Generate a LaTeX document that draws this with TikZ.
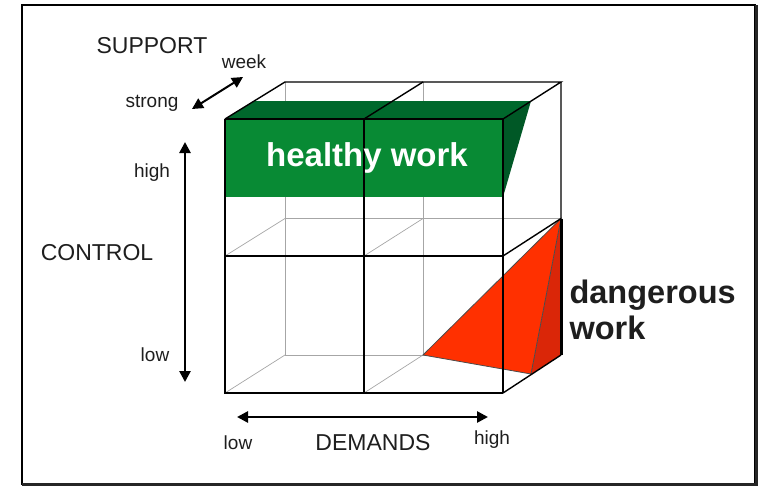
\documentclass[tikz,border=0pt]{standalone}
\usepackage{fontspec}
\setmainfont{Liberation Sans}
\usetikzlibrary{arrows.meta}

\definecolor{healthy}{RGB}{8,138,52}
\definecolor{healthytop}{RGB}{0,104,44}
\definecolor{healthyside}{RGB}{0,88,38}
\definecolor{danger}{RGB}{255,48,0}
\definecolor{dangerside}{RGB}{218,38,8}
\definecolor{ink}{RGB}{30,30,30}

\tikzset{
  edge/.style={line width=1.4pt},
  hidden/.style={gray!70,line width=0.7pt},
  axis/.style={line width=2.6pt,{Triangle[length=11pt,width=11pt]}-{Triangle[length=11pt,width=11pt]}},
  small/.style={text=ink,font=\fontsize{19}{19}\selectfont},
  big/.style={text=ink,font=\fontsize{23}{23}\selectfont},
}

\begin{document}
\begin{tikzpicture}[x=1pt,y=-1pt]
  \useasboundingbox (0,0) rectangle (766,487);
  % frame
  \draw[line width=1.5pt] (22,5) rectangle (755,484);
  \draw[line width=3pt,black!85] (22,484) -- (756,484) -- (756,5);

  % cube corners: f = front face, b = back face
  \foreach \row/\j in {t/0,m/1,b/2}
    \foreach \col/\i in {l/0,m/1,r/2} {
      \coordinate (f\row\col) at (225+139*\i, 119+137*\j);
      \coordinate (b\row\col) at (285+138*\i, 82+136.5*\j);
    }

  % hidden edges
  \draw[hidden] (btl) -- (bbl) -- (bbr);
  \draw[hidden] (btm) -- (bbm);
  \draw[hidden] (bml) -- (bmr);
  \foreach \n in {ml,mm,bl,bm}
    \draw[hidden] (f\n) -- (b\n);

  % healthy work block
  \coordinate (gtl) at (255,101);
  \coordinate (gtr) at (531,101);
  \coordinate (gbl) at (225,197);
  \coordinate (gbr) at (503,197);
  \fill[healthytop] (ftl) -- (gtl) -- (gtr) -- (ftr) -- cycle;
  \fill[healthyside] (ftr) -- (gtr) -- (gbr) -- cycle;
  \fill[healthy] (ftl) rectangle (gbr);

  % dangerous work wedge
  \coordinate (rc) at (531,374);
  \fill[danger] (bbm) -- (bmr) -- (rc) -- cycle;
  \fill[dangerside] (bmr) -- (rc) -- (bbr) -- cycle;
  \draw[line width=0.8pt,black!70] (bbm) -- (bmr) -- (rc) -- cycle;

  % visible edges
  \draw[edge] (ftl) -- (btl) -- (btr) -- (ftr);
  \draw[edge] (ftm) -- (btm);
  \draw[edge] (btr) -- (bmr) -- (fmr);
  \draw[edge] (bbr) -- (fbr);
  \draw[line width=3pt] (bmr) -- (bbr);
  \draw[edge] (ftr) -- (fbr);
  \draw[edge] (ftm) -- (fbm);
  \draw[edge] (fml) -- (fmr);
  \draw[line width=2pt] (ftl) -- (ftr);
  \draw[line width=2.6pt] (ftl) -- (fbl) -- (fbr);
  \node[text=white,font=\bfseries\fontsize{33}{33}\selectfont] (healthy) at (367,158) {healthy work};

  % axes
  \coordinate (s1) at (192,109);
  \coordinate (s2) at (243,77);
  \coordinate (c1) at (185,142);
  \coordinate (c2) at (185,382);
  \coordinate (d1) at (237,417);
  \coordinate (d2) at (488,417);
  \draw[axis,line width=2pt] (s1) -- (s2);
  \draw[axis] (c1) -- (c2);
  \draw[axis] (d1) -- (d2);

  % labels
  \node[big] (support) at (152,46) {SUPPORT};
  \node[small] (week) at (244,62) {week};
  \node[small] (strong) at (152,103) {strong};
  \node[small] (chigh) at (152,173) {high};
  \node[big] (control) at (97,253) {CONTROL};
  \node[small] (clow) at (155,355) {low};
  \node[small] (dlow) at (238,443) {low};
  \node[big] (demands) at (373,443) {DEMANDS};
  \node[small] (dhigh) at (492,440) {high};
  \node[anchor=west,align=left,text=ink,
    font=\bfseries\fontsize{32.5}{36}\selectfont] (dangerous) at (566,310) {dangerous\\work};
\end{tikzpicture}
\end{document}
